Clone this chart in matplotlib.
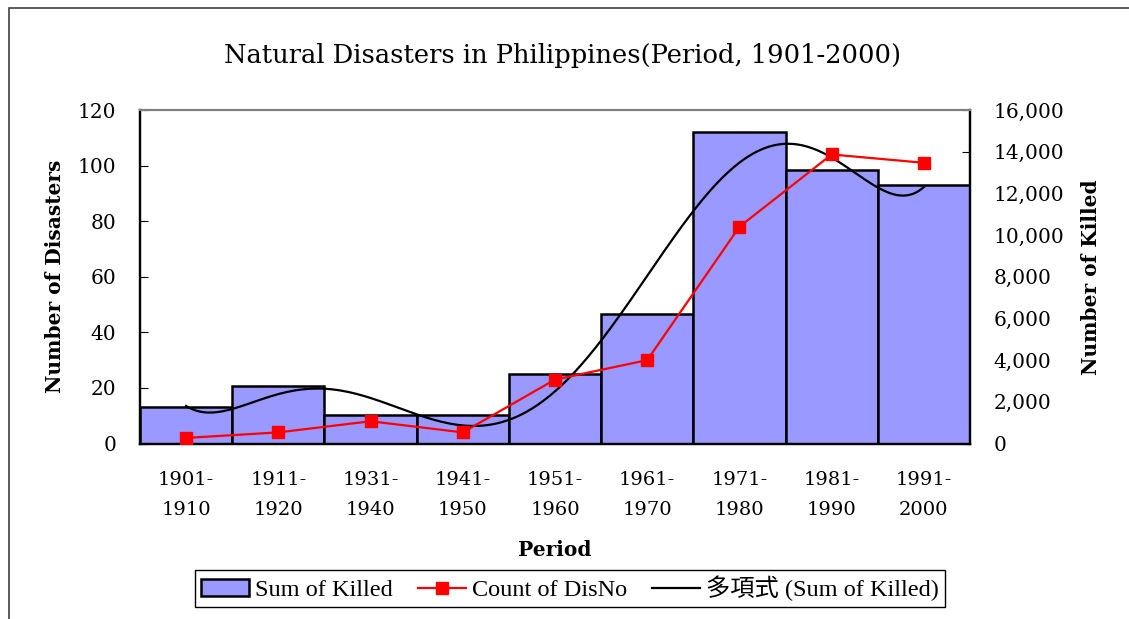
import matplotlib
matplotlib.use("Agg")
import matplotlib.pyplot as plt
import numpy as np
from matplotlib.patches import Rectangle, Patch
from matplotlib.lines import Line2D

# datos
periodos = ["1901-\n1910", "1911-\n1920", "1931-\n1940", "1941-\n1950", "1951-\n1960",
            "1961-\n1970", "1971-\n1980", "1981-\n1990", "1991-\n2000"]
sum_killed = [1730, 2770, 1360, 1360, 3330, 6230, 14960, 13130, 12400]
count_disno = [2, 4, 8, 4, 23, 30, 78, 104, 101]

serif = ["DejaVu Serif", "Noto Sans CJK JP"]
plt.rcParams["font.family"] = serif

fig = plt.figure(figsize=(11.29, 6.19), dpi=100)
ax = fig.add_axes([140 / 1129, 1 - 443.5 / 619, 830 / 1129, 333.5 / 619])
ax2 = ax.twinx()

x = np.arange(1, len(periodos) + 1)

# barras y tendencia polinómica (eje derecho)
ax2.bar(x, sum_killed, width=1.0, color="#9999FF", edgecolor="black", linewidth=1.8, zorder=2)
coef = np.polyfit(x, sum_killed, 6)
xs = np.linspace(1, len(periodos), 300)
ax2.plot(xs, np.polyval(coef, xs), color="black", linewidth=1.6, zorder=3)
ax2.set_ylim(0, 16000)
ax2.set_yticks(range(0, 16001, 2000))
ax2.set_yticklabels([f"{v:,}" for v in range(0, 16001, 2000)])
ax2.set_facecolor("#C0C0C0")

# línea roja (eje izquierdo)
ax.plot(x, count_disno, color="red", linewidth=1.6, marker="s", markersize=9, zorder=4)
ax.set_ylim(0, 120)
ax.set_yticks(range(0, 121, 20))
ax.set_xlim(0.5, len(periodos) + 0.5)
ax.set_xticks(x)
ax.set_xticklabels(periodos, fontsize=14, linespacing=1.85)
ax.set_zorder(ax2.get_zorder() + 1)
ax.patch.set_visible(False)

for a in (ax, ax2):
    a.tick_params(axis="y", direction="in", length=6, labelsize=14.5, pad=17)
    a.tick_params(axis="x", length=0, pad=20)
    for s in ("left", "right", "bottom"):
        a.spines[s].set_linewidth(1.6)
        a.spines[s].set_color("black")
    a.spines["top"].set_color("#808080")
    a.spines["top"].set_linewidth(1.5)
ax2.set_xlim(0.5, len(periodos) + 0.5)

ax.set_ylabel("Number of Disasters", fontsize=14.5, fontweight="bold", labelpad=9)
ax2.set_ylabel("Number of Killed", fontsize=14.5, fontweight="bold", labelpad=12)
ax.set_xlabel("Period", fontsize=14.5, fontweight="bold", labelpad=15)
fig.text(562 / 1129, 1 - 55 / 619, "Natural Disasters in Philippines(Period, 1901-2000)",
         ha="center", va="center", fontsize=18.5)

handles = [
    Patch(facecolor="#9999FF", edgecolor="black", linewidth=1.8),
    Line2D([], [], color="red", marker="s", markersize=9, linewidth=1.6),
    Line2D([], [], color="black", linewidth=1.6),
]
labels = ["Sum of Killed", "Count of DisNo", "多項式 (Sum of Killed)"]
leg = fig.legend(handles, labels, loc="center", bbox_to_anchor=(570 / 1129, 1 - 588.5 / 619),
                 ncol=3, fancybox=False, edgecolor="black", framealpha=1,
                 prop={"family": ["Liberation Serif", "Noto Sans CJK JP"], "size": 17.5},
                 handlelength=2.0, handletextpad=0.25, columnspacing=1.0, borderpad=0.25)
leg.get_frame().set_linewidth(1.0)

fig.add_artist(Rectangle((9 / 1129, -0.1), 2, (619 - 8) / 619 + 0.1, transform=fig.transFigure,
                         fill=False, edgecolor="#404040", linewidth=1.2))

fig.savefig("out.png", dpi=100)
